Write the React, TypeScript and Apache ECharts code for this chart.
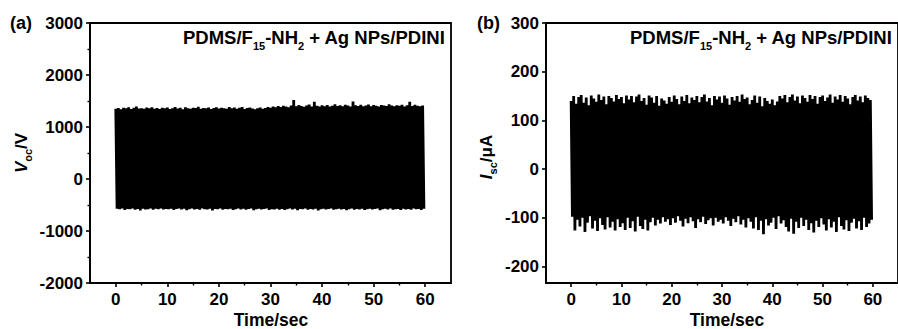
import React, { useEffect, useRef } from "react";
import * as echarts from "echarts";

// ---------- data ----------
// sampled envelope of the dense TENG output, every SAMPLE_STEP seconds
const SAMPLE_STEP = 0.5;

const VOC_MAX = [
  1350, 1365, 1340, 1372, 1358, 1380, 1345, 1368, 1392, 1355, 1362, 1349, 1375, 1360, 1381, 1352, 1366, 1344, 1370, 1359,
  1374, 1348, 1362, 1385, 1357, 1369, 1343, 1378, 1361, 1353, 1372, 1365, 1388, 1350, 1367, 1358, 1376, 1346, 1363, 1379,
  1355, 1371, 1362, 1349, 1383, 1360, 1374, 1352, 1368, 1386, 1347, 1364, 1377, 1356, 1339, 1361, 1373, 1350, 1366, 1382,
  1369, 1395, 1378, 1402, 1385, 1410, 1392, 1380, 1415, 1520, 1398, 1421, 1405, 1388, 1412, 1430, 1396, 1483, 1408, 1392,
  1418, 1401, 1425, 1394, 1410, 1436, 1403, 1419, 1398, 1427, 1411, 1392, 1490, 1416, 1404, 1428, 1397, 1413, 1432, 1400,
  1421, 1406, 1395, 1424, 1411, 1402, 1437, 1415, 1398, 1420, 1408, 1429, 1393, 1417, 1485, 1405, 1426, 1410, 1398, 1415,
];
const VOC_MIN = [
  -572, -580, -566, -598, -575, -583, -569, -590, -577, -604, -571, -585, -579, -566, -593, -574, -582, -568, -588, -576,
  -581, -570, -595, -578, -566, -586, -573, -600, -580, -569, -584, -575, -592, -567, -579, -587, -571, -606, -577, -583,
  -568, -589, -576, -582, -570, -597, -579, -565, -585, -574, -591, -578, -569, -603, -581, -572, -587, -575, -566, -594,
  -579, -584, -570, -589, -576, -598, -581, -567, -586, -573, -600, -578, -583, -569, -592, -575, -585, -571, -605, -580,
  -574, -588, -577, -566, -593, -580, -571, -586, -575, -599, -582, -568, -590, -576, -584, -570, -596, -579, -573, -587,
  -578, -569, -601, -583, -574, -588, -567, -592, -580, -575, -597, -571, -585, -578, -590, -568, -583, -576, -594, -572,
];
const ISC_MAX = [
  140, 150, 134, 148, 152, 136, 147, 131, 151, 145, 138, 153, 142, 149, 133, 150, 146, 139, 152, 144,
  148, 135, 151, 143, 150, 137, 149, 153, 140, 146, 132, 151, 147, 136, 150, 130, 145, 141, 134, 148,
  138, 151, 144, 133, 149, 140, 152, 135, 147, 142, 150, 137, 148, 153, 139, 146, 131, 150, 143, 149,
  136, 151, 145, 132, 148, 141, 150, 138, 153, 144, 147, 133, 142, 151, 136, 149, 129, 146, 140, 134,
  143, 131, 139, 150, 145, 152, 137, 148, 153, 141, 149, 135, 151, 146, 138, 152, 144, 150, 134, 148,
  151, 140, 147, 153, 136, 149, 143, 152, 138, 150, 145, 133, 148, 152, 141, 149, 137, 151, 146, 142,
];
const ISC_MIN = [
  -98, -126, -104, -118, -100, -129, -110, -97, -122, -106, -127, -101, -115, -124, -99, -120, -108, -126, -103, -119,
  -111, -125, -100, -121, -107, -128, -98, -117, -123, -104, -126, -109, -100, -116, -104, -112, -99, -108, -103, -115,
  -101, -110, -97, -106, -118, -102, -111, -99, -107, -121, -103, -109, -98, -113, -105, -101, -116, -100, -108, -104,
  -112, -99, -106, -117, -102, -109, -97, -114, -104, -120, -101, -108, -122, -99, -125, -106, -134, -103, -116, -110,
  -100, -123, -97, -112, -105, -119, -128, -102, -133, -108, -121, -100, -117, -104, -125, -111, -130, -106, -119, -101,
  -114, -126, -103, -120, -108, -129, -99, -117, -124, -105, -127, -110, -102, -122, -107, -125, -100, -119, -112, -104,
];

const X_TICKS = [0, 10, 20, 30, 40, 50, 60];
const X_MINOR = [5, 15, 25, 35, 45, 55];
const I_TICKS = [-200, -100, 0, 100, 200, 300];
const I_MINOR = [-150, -50, 50, 150, 250];

const FONT = "'Liberation Sans', Arial, Helvetica, sans-serif";

function trace(maxArr: number[], minArr: number[]) {
  const pts: number[][] = [];
  maxArr.forEach((mx, i) => {
    pts.push([i * SAMPLE_STEP, mx]);
    pts.push([i * SAMPLE_STEP + SAMPLE_STEP / 2, minArr[i]]);
  });
  return pts;
}

const plain = (v: number) => String(v);
const tickLabel = { color: "#000", fontSize: 17, fontWeight: "bold" as const, fontFamily: FONT, formatter: plain };
const axisLine = { show: true, onZero: false, lineStyle: { color: "#000", width: 1.8 } };

function mainX(grid: number) {
  return {
    type: "value", gridIndex: grid, min: -5, max: 65, position: "bottom",
    axisLine,
    axisTick: { show: true, inside: false, length: 4, customValues: X_TICKS, lineStyle: { color: "#000", width: 1.6 } },
    axisLabel: { ...tickLabel, margin: 8, customValues: X_TICKS },
    splitLine: { show: false },
  };
}
function minorX(grid: number) {
  return {
    type: "value", gridIndex: grid, min: -5, max: 65, position: "bottom",
    axisLine: { show: false, onZero: false },
    axisTick: { show: true, inside: false, length: 2.5, customValues: X_MINOR, lineStyle: { color: "#000", width: 1.4 } },
    axisLabel: { show: false },
    splitLine: { show: false },
  };
}

export default function App() {
  const ref = useRef<HTMLDivElement>(null);
  useEffect(() => {
    if (!ref.current) return;
    const chart = echarts.init(ref.current, null, { renderer: "svg" });

    const titleRich = {
      n: { fontSize: 18.5, fontWeight: "bold", fontFamily: FONT, fill: "#000", lineHeight: 27, verticalAlign: "middle" },
      s: { fontSize: 11, fontWeight: "bold", fontFamily: FONT, fill: "#000", lineHeight: 27, verticalAlign: "bottom" },
    };
    const titleText = "{n|PDMS/F}{s|15}{n|-NH}{s|2}{n| + Ag NPs/PDINI}";
    const nameRich = {
      i: { fontSize: 17, fontWeight: "bold", fontStyle: "italic", fontFamily: FONT, fill: "#000", lineHeight: 24, verticalAlign: "middle" },
      n: { fontSize: 17, fontWeight: "bold", fontFamily: FONT, fill: "#000", lineHeight: 24, verticalAlign: "middle" },
      s: { fontSize: 11, fontWeight: "bold", fontFamily: FONT, fill: "#000", lineHeight: 24, verticalAlign: "bottom" },
    };
    const lineSeries = { type: "line", showSymbol: false, symbol: "none", lineStyle: { color: "#000", width: 2.8, join: "bevel" } };
    const panelTag = { fontSize: 18, fontWeight: "bold", fontFamily: FONT, fill: "#000", align: "left", verticalAlign: "top" };
    const xName = { fontSize: 17.5, lineHeight: 12, fontWeight: "bold", fontFamily: FONT, fill: "#000", align: "center", verticalAlign: "middle" };

    chart.setOption({
      animation: false,
      backgroundColor: "#fff",
      grid: [
        { left: 90, top: 23, width: 361, height: 260, show: true, borderColor: "#000", borderWidth: 1.8, backgroundColor: "transparent" },
        { left: 546, top: 23, width: 362, height: 260, show: true, borderColor: "#000", borderWidth: 1.8, backgroundColor: "transparent" },
      ],
      xAxis: [mainX(0), minorX(0), mainX(1), minorX(1)],
      yAxis: [
        {
          type: "value", gridIndex: 0, min: -2000, max: 3000, interval: 1000,
          axisLine,
          axisTick: { show: true, inside: false, length: 4, lineStyle: { color: "#000", width: 1.6 } },
          minorTick: { show: true, splitNumber: 2, length: 2.5, lineStyle: { color: "#000", width: 1.4 } },
          axisLabel: { ...tickLabel, margin: 7 },
          splitLine: { show: false },
        },
        {
          type: "value", gridIndex: 1, min: -234, max: 300,
          axisLine,
          axisTick: { show: true, inside: false, length: 4, customValues: I_TICKS, lineStyle: { color: "#000", width: 1.6 } },
          axisLabel: { ...tickLabel, margin: 7, customValues: I_TICKS },
          splitLine: { show: false },
        },
        {
          type: "value", gridIndex: 1, min: -234, max: 300,
          axisLine: { show: false, onZero: false },
          axisTick: { show: true, inside: false, length: 2.5, customValues: I_MINOR, lineStyle: { color: "#000", width: 1.4 } },
          axisLabel: { show: false },
          splitLine: { show: false },
        },
      ],
      series: [
        { ...lineSeries, xAxisIndex: 0, yAxisIndex: 0, data: trace(VOC_MAX, VOC_MIN) },
        { ...lineSeries, xAxisIndex: 2, yAxisIndex: 1, data: trace(ISC_MAX, ISC_MIN) },
      ],
      graphic: [
        { type: "text", x: 10, y: 14, style: { text: "(a)", ...panelTag } },
        { type: "text", x: 477, y: 14, style: { text: "(b)", ...panelTag } },
        { type: "text", x: 183, y: 24, style: { text: titleText, rich: titleRich, align: "left", verticalAlign: "top" } },
        { type: "text", x: 630, y: 24, style: { text: titleText, rich: titleRich, align: "left", verticalAlign: "top" } },
        { type: "text", x: 271, y: 319.5, style: { text: "Time/sec", ...xName } },
        { type: "text", x: 727, y: 319.5, style: { text: "Time/sec", ...xName } },
        { type: "text", x: 21, y: 153, rotation: Math.PI / 2, style: { text: "{i|V}{s|oc}{n|/V}", rich: nameRich, align: "center", verticalAlign: "middle" } },
        { type: "text", x: 486, y: 157, rotation: Math.PI / 2, style: { text: "{i|I}{s|sc}{n|/μA}", rich: nameRich, align: "center", verticalAlign: "middle" } },
      ],
    });
    return () => chart.dispose();
  }, []);
  return <div ref={ref} style={{ position: "fixed", left: 0, top: 0, width: 898, height: 329, background: "#fff" }} />;
}
